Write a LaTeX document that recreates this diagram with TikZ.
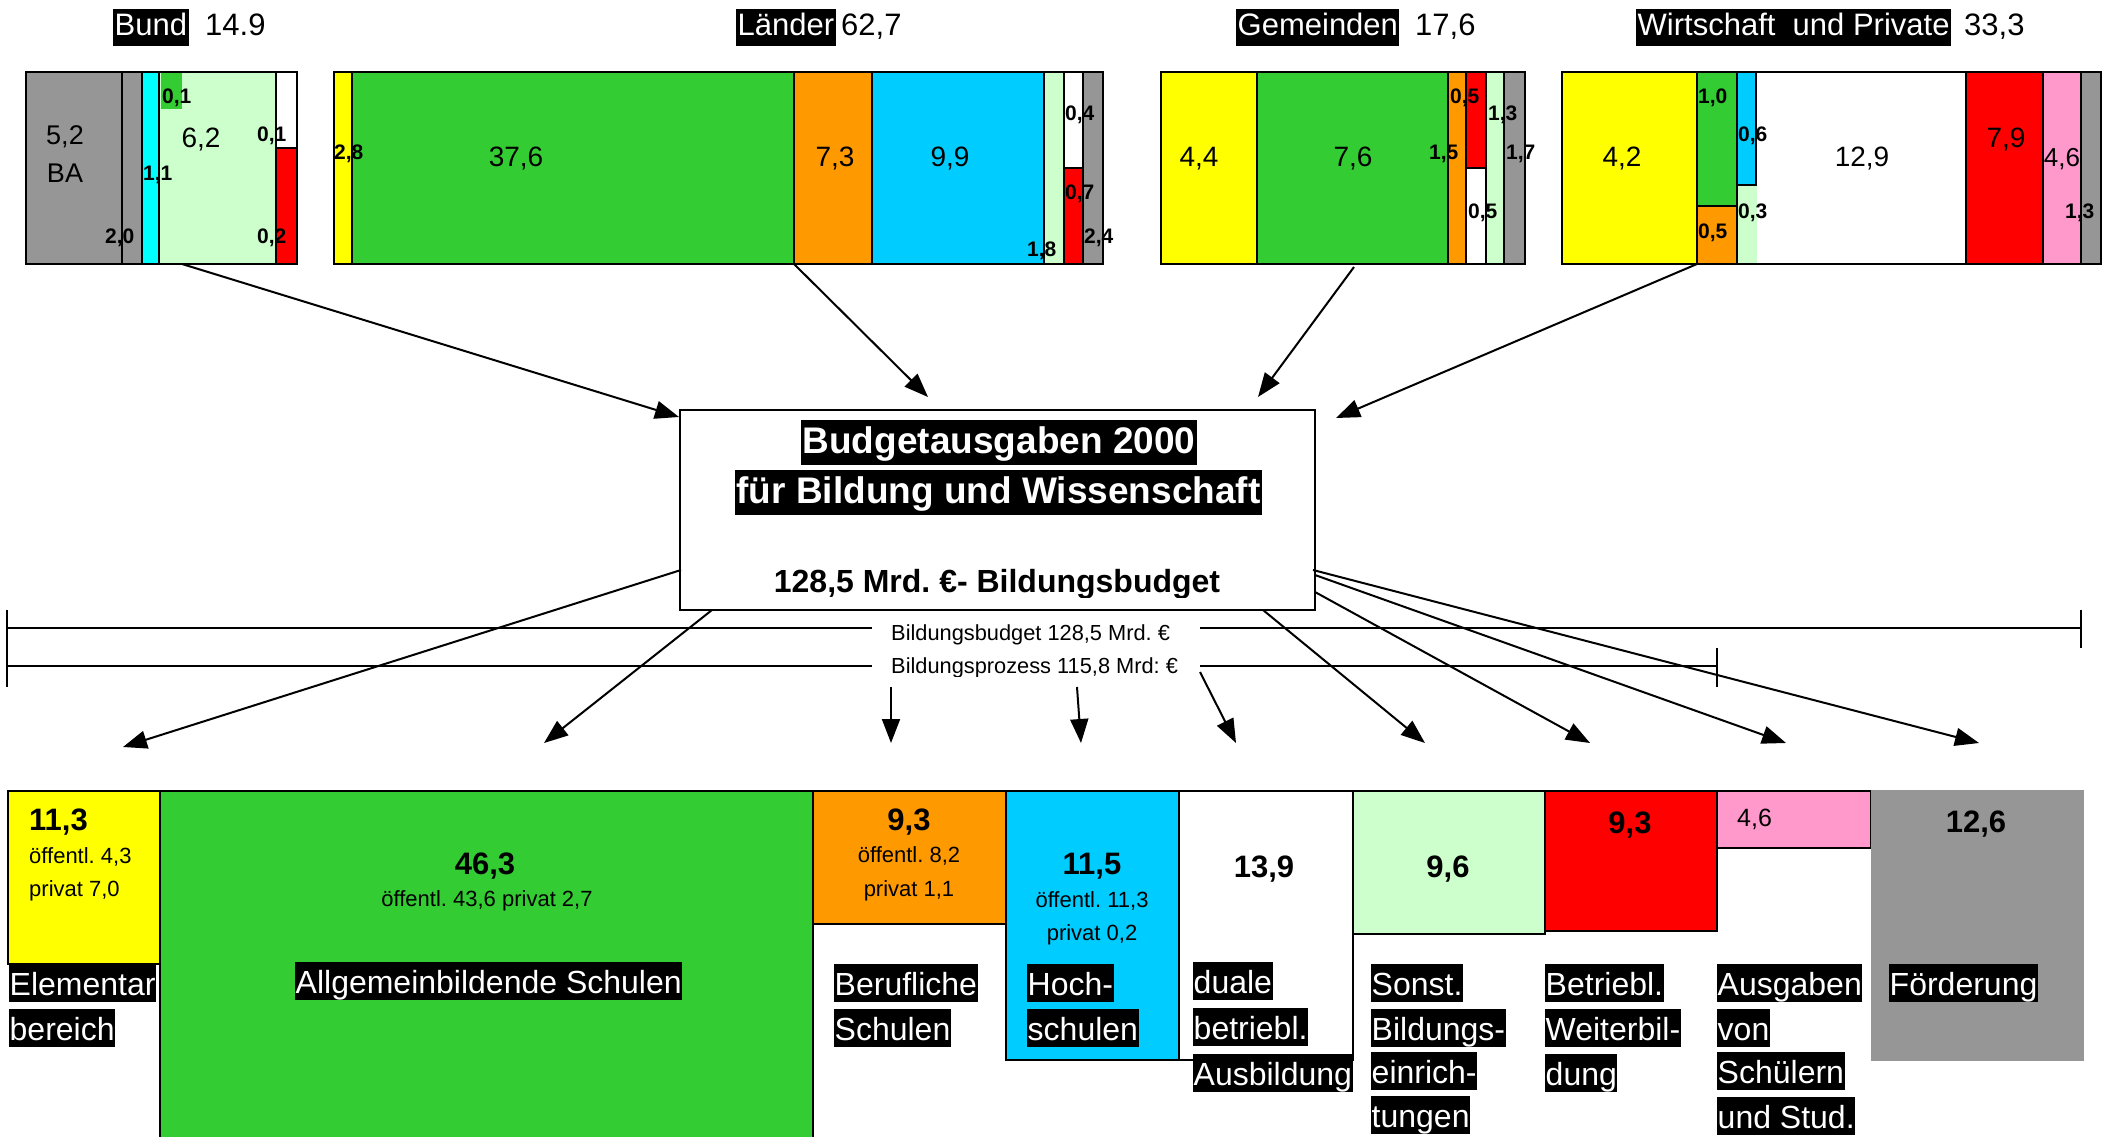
\documentclass[tikz,border=0pt]{standalone}
\usepackage{fontspec}
\setmainfont{Liberation Sans}
\usetikzlibrary{arrows.meta}
\newcommand\fsz[1]{\fontsize{#1pt}{#1pt}\selectfont}
\definecolor{cgray}{RGB}{150,150,150}
\definecolor{ccyan}{RGB}{0,255,255}
\definecolor{cblue}{RGB}{0,204,255}
\definecolor{clgreen}{RGB}{204,255,204}
\definecolor{cgreen}{RGB}{51,204,51}
\definecolor{cyellow}{RGB}{255,255,0}
\definecolor{corange}{RGB}{255,153,0}
\definecolor{cred}{RGB}{255,0,0}
\definecolor{cpink}{RGB}{255,153,204}
\frenchspacing
\begin{document}
\begin{tikzpicture}[x=1pt,y=-1pt,
  seg/.style={draw=black,line width=2.4pt},
  bx/.style={draw=black,line width=2.4pt},
  big/.style={font=\fsz{28},anchor=base,inner sep=0pt},
  sml/.style={font=\bfseries\fsz{21},anchor=base west,inner sep=0pt},
  tlab/.style={fill=black,text=white,font=\fsz{31},inner xsep=1.5pt,inner ysep=0pt,text height=27pt,text depth=10pt,anchor=base west},
  tval/.style={font=\fsz{31},anchor=base west,inner sep=0pt},
  blab/.style={fill=black,text=white,font=\fsz{32},inner xsep=0.5pt,inner ysep=0pt,text height=31pt,text depth=7pt,anchor=base west},
  num/.style={font=\bfseries\fsz{31},anchor=base,inner sep=0pt},
  sub/.style={font=\fsz{22},anchor=base,inner sep=0pt},
  ttl/.style={fill=black,text=white,font=\bfseries\fsz{37},inner xsep=2pt,inner ysep=0pt,text height=33pt,text depth=12pt,anchor=base},
  ln/.style={line width=2.4pt},
  arr/.style={-{Triangle[length=24pt,width=18pt]},line width=2pt}
]
\useasboundingbox (0,0) rectangle (2109,1137);
\clip (0,0) rectangle (2109,1137);

% ---------- top titles
\node[tlab] (tBund) at (113,36) {Bund\ };
\node[tval] (vBund) at (205,36) {14.9};
\node[tlab] (tLaender) at (736,36) {Länder};
\node[tval] (vLaender) at (841,36) {62,7};
\node[tlab] (tGem) at (1236,36) {Gemeinden};
\node[tval] (vGem) at (1415,36) {17,6};
\node[tlab] (tWir) at (1636,36) {Wirtschaft\ \ und Private};
\node[tval] (vWir) at (1964,36) {33,3};

% ---------- Bund bar
\filldraw[seg,fill=cgray] (26,72) rectangle (122,264);
\filldraw[seg,fill=cgray] (122,72) rectangle (142,264);
\filldraw[seg,fill=ccyan] (142,72) rectangle (159,264);
\filldraw[seg,fill=clgreen] (159,72) rectangle (276,264);
\fill[cgreen] (161,73.5) rectangle (182,109);
\filldraw[seg,fill=white] (276,72) rectangle (297,148);
\filldraw[seg,fill=cred] (276,148) rectangle (297,264);
\draw[seg] (26,72) rectangle (297,264);
\node[font=\fsz{27},anchor=base,inner sep=0pt] (b1) at (65,144) {5,2};
\node[font=\fsz{27},anchor=base,inner sep=0pt] (b2) at (65,182) {BA};
\node[big] (b3) at (201,148) {6,2};
\node[sml] (b4) at (105,243) {2,0};
\node[sml] (b5) at (143,180) {1,1};
\node[sml] (b6) at (162,104) {0,1};
\node[sml] (b7) at (257,142) {0,1};
\node[sml] (b8) at (257,243) {0,2};

% ---------- Laender bar
\filldraw[seg,fill=cyellow] (334,72) rectangle (352,264);
\filldraw[seg,fill=cgreen] (352,72) rectangle (794,264);
\filldraw[seg,fill=corange] (794,72) rectangle (872,264);
\filldraw[seg,fill=cblue] (872,72) rectangle (1044,264);
\filldraw[seg,fill=clgreen] (1044,72) rectangle (1064,264);
\filldraw[seg,fill=white] (1064,72) rectangle (1083,168);
\filldraw[seg,fill=cred] (1064,168) rectangle (1083,264);
\filldraw[seg,fill=cgray] (1083,72) rectangle (1103,264);
\draw[seg] (334,72) rectangle (1103,264);
\node[sml] (l1) at (334,160) {2,8};
\node[big] (l2) at (516,167) {37,6};
\node[big] (l3) at (835,167) {7,3};
\node[big] (l4) at (950,167) {9,9};
\node[sml] (l5) at (1027,256) {1,8};
\node[sml] (l6) at (1065,121) {0,4};
\node[sml] (l7) at (1065,199) {0,7};
\node[sml] (l8) at (1084,243) {2,4};

% ---------- Gemeinden bar
\filldraw[seg,fill=cyellow] (1161,72) rectangle (1257,264);
\filldraw[seg,fill=cgreen] (1257,72) rectangle (1448,264);
\filldraw[seg,fill=corange] (1448,72) rectangle (1466,264);
\filldraw[seg,fill=cred] (1466,72) rectangle (1486,168);
\filldraw[seg,fill=white] (1466,168) rectangle (1486,264);
\filldraw[seg,fill=clgreen] (1486,72) rectangle (1504,264);
\filldraw[seg,fill=cgray] (1504,72) rectangle (1525,264);
\draw[seg] (1161,72) rectangle (1525,264);
\node[big] (g1) at (1199,167) {4,4};
\node[big] (g2) at (1353,167) {7,6};
\node[sml] (g3) at (1450,104) {0,5};
\node[sml] (g4) at (1488,121) {1,3};
\node[sml] (g5) at (1429,159) {1,5};
\node[sml] (g6) at (1506,159) {1,7};
\node[sml] (g7) at (1468,218) {0,5};

% ---------- Wirtschaft bar
\filldraw[seg,fill=cyellow] (1562,72) rectangle (1697,264);
\filldraw[seg,fill=cgreen] (1697,72) rectangle (1737,206);
\filldraw[seg,fill=corange] (1697,206) rectangle (1737,264);
\filldraw[seg,fill=white] (1756,72) rectangle (1966,264);
\filldraw[seg,fill=cblue] (1737,72) rectangle (1756,185);
\fill[clgreen] (1738.2,186.2) rectangle (1757,262.8);
\filldraw[seg,fill=cred] (1966,72) rectangle (2043,264);
\filldraw[seg,fill=cpink] (2043,72) rectangle (2081,264);
\filldraw[seg,fill=cgray] (2081,72) rectangle (2101,264);
\draw[seg] (1562,72) rectangle (2101,264);
\node[big] (w1) at (1622,167) {4,2};
\node[sml] (w2) at (1698,104) {1,0};
\node[sml] (w3) at (1738,142) {0,6};
\node[big] (w4) at (1862,166) {12,9};
\node[big] (w5) at (2006,147) {7,9};
\node[font=\fsz{26},anchor=base,inner sep=0pt] (w6) at (2062,167) {4,6};
\node[sml] (w7) at (1738,218) {0,3};
\node[sml] (w8) at (1698,238) {0,5};
\node[sml] (w9) at (2065,218) {1,3};

% ---------- scale lines
\coordinate (La) at (7,628);
\coordinate (Lb) at (872,628);
\coordinate (Lc) at (1200,628);
\coordinate (Ld) at (2081,628);
\coordinate (Ma) at (7,666);
\coordinate (Mb) at (872,666);
\coordinate (Mc) at (1200,666);
\coordinate (Md) at (1717,666);
\draw[ln] (7,610) -- (7,687);
\draw[ln] (2081,610) -- (2081,648);
\draw[ln] (1717,648) -- (1717,687);
\draw[ln] (La) -- (Lb);
\draw[ln] (Lc) -- (Ld);
\draw[ln] (Ma) -- (Mb);
\draw[ln] (Mc) -- (Md);
\node[font=\fsz{21.8},anchor=base west,inner sep=0pt] (bbud) at (891,640) {Bildungsbudget 128,5 Mrd. €};
\begin{scope}
\clip (880,648) rectangle (1195,676);
\node[font=\fsz{21.8},anchor=base west,inner sep=0pt] (bpro) at (891,673) {Bildungsprozess 115,8 Mrd: €};
\end{scope}

% ---------- centre box
\node[draw=black,line width=2.4pt,fill=white,minimum width=635pt,minimum height=200pt,inner sep=0pt] (cbox) at (997.5,510) {};
\node[ttl] (ti1) at (999,453) {Budgetausgaben 2000};
\node[ttl] (ti2) at (998.5,503) {für Bildung und Wissenschaft};
\begin{scope}
\clip (682,412) rectangle (1313,597);
\node[font=\bfseries\fsz{32},anchor=base,inner sep=0pt] (ti3) at (997,592) {128,5 Mrd. €- Bildungsbudget};
\end{scope}

% ---------- top arrows
\coordinate (sB) at (182,264);
\coordinate (sL) at (794,264);
\coordinate (sG) at (1354,267);
\coordinate (sW) at (1697,264);
\coordinate (eB) at (679,417);
\coordinate (eL) at (928,397);
\coordinate (eG) at (1258,397);
\coordinate (eW) at (1336,418);
\draw[arr] (sB) -- (eB);
\draw[arr] (sL) -- (eL);
\draw[arr] (sG) -- (eG);
\draw[arr] (sW) -- (eW);

% ---------- bottom arrows
\coordinate (o1) at (681,570);
\coordinate (o2) at (712,610);
\coordinate (o3) at (891,687);
\coordinate (o4) at (1077,687);
\coordinate (o5) at (1200,672);
\coordinate (o6) at (1263,610);
\coordinate (o7) at (1315,592);
\coordinate (o8) at (1315,575);
\coordinate (o9) at (1313,570);
\coordinate (d1) at (123,747);
\coordinate (d2) at (544,743);
\coordinate (d3) at (891,743);
\coordinate (d4) at (1081,743);
\coordinate (d5) at (1236,743);
\coordinate (d6) at (1425,743);
\coordinate (d7) at (1590,743);
\coordinate (d8) at (1786,743);
\coordinate (d9) at (1979,743);
\foreach \i in {1,...,9} {\draw[arr] (o\i) -- (d\i);}

% ---------- bottom boxes
\filldraw[bx,fill=cyellow] (8,791) rectangle (160,964);
\filldraw[bx,fill=cgreen] (160,791) rectangle (813,1160);
\filldraw[bx,fill=corange] (813,791) rectangle (1006,924);
\filldraw[bx,fill=cblue] (1006,791) rectangle (1179,1060);
\filldraw[bx,fill=white] (1179,791) rectangle (1353,1060);
\filldraw[bx,fill=clgreen] (1353,791) rectangle (1545,934);
\filldraw[bx,fill=cred] (1545,791) rectangle (1717,931);
\filldraw[bx,fill=cpink] (1717,791) rectangle (1871,848);
\fill[cgray] (1871,790) rectangle (2084,1061);

\node[num,anchor=base west] (n1) at (29,830) {11,3};
\node[sub,anchor=base west] (n1a) at (29,863) {öffentl. 4,3};
\node[sub,anchor=base west] (n1b) at (29,896) {privat 7,0};
\node[num] (n2) at (485,874) {46,3};
\node[sub] (n2a) at (487,906) {öffentl. 43,6 privat 2,7};
\node[num] (n3) at (909,830) {9,3};
\node[sub] (n3a) at (909,862) {öffentl. 8,2};
\node[sub] (n3b) at (909,896) {privat 1,1};
\node[num] (n4) at (1092,874) {11,5};
\node[sub] (n4a) at (1092,907) {öffentl. 11,3};
\node[sub] (n4b) at (1092,940) {privat 0,2};
\node[num] (n5) at (1264,877) {13,9};
\node[num] (n6) at (1448,877) {9,6};
\node[num] (n7) at (1630,833) {9,3};
\node[font=\fsz{25},anchor=base west,inner sep=0pt] (n8) at (1737,826) {4,6};
\node[num] (n9) at (1976,832) {12,6};

% ---------- bottom labels
\node[blab] (e1) at (9,995) {Elementar};
\node[blab] (e2) at (9,1040) {bereich};
\node[blab] (a1) at (295,993) {Allgemeinbildende Schulen};
\node[blab] (r1) at (834,995) {Berufliche};
\node[blab] (r2) at (834,1040) {Schulen};
\node[blab] (h1) at (1027,995) {Hoch-};
\node[blab] (h2) at (1027,1040) {schulen};
\node[blab] (u1) at (1193,993) {duale};
\node[blab] (u2) at (1193,1039) {betriebl.};
\node[blab] (u3) at (1193,1085) {Ausbildung};
\node[blab] (s1) at (1371,995) {Sonst.};
\node[blab] (s2) at (1371,1040) {Bildungs-};
\node[blab] (s3) at (1371,1083) {einrich-};
\node[blab] (s4) at (1371,1127) {tungen};
\node[blab] (w1b) at (1545,995) {Betriebl.};
\node[blab] (w2b) at (1545,1040) {Weiterbil-};
\node[blab] (w3b) at (1545,1085) {dung};
\node[blab] (z1) at (1717,995) {Ausgaben};
\node[blab] (z2) at (1717,1040) {von};
\node[blab] (z3) at (1717,1083) {Schülern};
\node[blab] (z4) at (1717,1128) {und Stud.};
\node[blab] (f1) at (1889,995) {Förderung};
\end{tikzpicture}
\end{document}
